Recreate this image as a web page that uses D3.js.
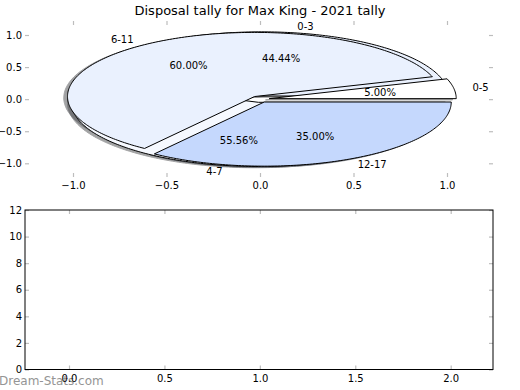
<!DOCTYPE html>
<html>
<head>
<meta charset="utf-8">
<script src="https://cdn.jsdelivr.net/npm/d3@7"></script>
<style>
  html, body { margin: 0; padding: 0; background: #fff; }
  svg { display: block; font-family: "DejaVu Sans", sans-serif; }
</style>
</head>
<body>
<svg id="chart" width="520" height="390"></svg>
<script>
// ---- data ----
const titleText = "Disposal tally for Max King - 2021 tally";
const innerLabels = ["0-3", "4-7"];
const innerValues = [4, 5];
const innerColors = ["#eaf1fe", "#f6f9ff"];
const outerLabels = ["0-5", "6-11", "12-17"];
const outerValues = [1, 12, 7];
const outerColors = ["#ffffff", "#eaf1fe", "#c5d8fd"];
const explodeAmount = [0.05];
const pieTicks = [-1.0, -0.5, 0.0, 0.5, 1.0];
const emptyXTicks = [0.0, 0.5, 1.0, 1.5, 2.0];
const emptyYTicks = [0, 2, 4, 6, 8, 10, 12];
const watermark = "Dream-Stats.com";

const svg = d3.select("#chart");
const fmt1 = v => (v < 0 ? "\u2212" : "") + Math.abs(v).toFixed(1);

// ---- top (pie) axes ----
const topBox = {left: 25, right: 493, top: 21, bottom: 177};
const px = d3.scaleLinear().domain([-1, 1]).range([73, 447]);
const py = d3.scaleLinear().domain([-1, 1]).range([163.3, 35]);

function wedgePath(t1, t2, cx, cy, ox, oy) {
  const pts = [[cx + ox, cy + oy]];
  const n = Math.max(8, Math.ceil((t2 - t1) / (Math.PI / 180)));
  for (let i = 0; i <= n; i++) {
    const t = t1 + (t2 - t1) * i / n;
    pts.push([cx + ox + Math.cos(t), cy + oy + Math.sin(t)]);
  }
  return d3.line().x(d => px(d[0])).y(d => py(d[1]))(pts) + "Z";
}

function buildPie(values, labels, colors) {
  // d3.pie runs clockwise from 12 o'clock; going from pi/2 to pi/2-2pi
  // gives counter-clockwise from 3 o'clock, like the reference.
  const arcs = d3.pie().sort(null).startAngle(Math.PI / 2).endAngle(Math.PI / 2 - 2 * Math.PI)(values);
  const total = d3.sum(values);
  return arcs.map((a, i) => {
    const t1 = Math.PI / 2 - a.startAngle;
    const t2 = Math.PI / 2 - a.endAngle;
    const m = (t1 + t2) / 2;
    const e = explodeAmount[0];
    return {t1, t2, m, cx: e * Math.cos(m), cy: e * Math.sin(m),
            label: labels[i], color: colors[i], pct: (100 * values[i] / total).toFixed(2) + "%"};
  });
}

const pies = [buildPie(innerValues, innerLabels, innerColors), buildPie(outerValues, outerLabels, outerColors)];
const gPie = svg.append("g");

// shadows first
pies.forEach(w => w.forEach(d => {
  const c = d3.color(d.color).rgb();
  const sc = d3.rgb(c.r * 0.3, c.g * 0.3, c.b * 0.3);
  gPie.append("path")
    .attr("d", wedgePath(d.t1, d.t2, d.cx, d.cy, -0.02, -0.02))
    .attr("fill", sc).attr("stroke", sc).attr("stroke-width", 1)
    .attr("opacity", 0.5);
}));
// wedges
pies.forEach(w => w.forEach(d => {
  gPie.append("path")
    .attr("d", wedgePath(d.t1, d.t2, d.cx, d.cy, 0, 0))
    .attr("fill", d.color).attr("stroke", "#000").attr("stroke-width", 1)
    .attr("stroke-linejoin", "miter");
}));
// texts
pies.forEach(w => w.forEach(d => {
  const lx = d.cx + 1.1 * Math.cos(d.m), ly = d.cy + 1.1 * Math.sin(d.m);
  gPie.append("text").attr("x", px(lx)).attr("y", py(ly))
    .attr("text-anchor", lx > 0 ? "start" : "end")
    .attr("dominant-baseline", "central")
    .attr("font-size", 10).attr("fill", "#000").text(d.label);
  const tx = d.cx + 0.6 * Math.cos(d.m), ty = d.cy + 0.6 * Math.sin(d.m);
  gPie.append("text").attr("x", px(tx)).attr("y", py(ty))
    .attr("text-anchor", "middle").attr("dominant-baseline", "central")
    .attr("font-size", 10).attr("fill", "#000").text(d.pct);
}));

function styleAxis(g, showLabels) {
  g.select(".domain").remove();
  g.selectAll(".tick line").attr("stroke", "#bdbdbd").attr("stroke-width", 1.2);
  g.selectAll(".tick text").attr("font-size", 10).attr("fill", "#000")
    .attr("font-family", "DejaVu Sans, sans-serif");
  if (!showLabels) g.selectAll(".tick text").remove();
}

// top axes ticks (no frame)
svg.append("g").attr("transform", `translate(0,${topBox.bottom})`)
  .call(d3.axisBottom(px).tickValues(pieTicks).tickFormat(fmt1).tickSize(-4).tickPadding(5))
  .call(g => styleAxis(g, true));
svg.append("g").attr("transform", `translate(0,${topBox.top})`)
  .call(d3.axisTop(px).tickValues(pieTicks).tickSize(-4))
  .call(g => styleAxis(g, false));
svg.append("g").attr("transform", `translate(${topBox.left},0)`)
  .call(d3.axisLeft(py).tickValues(pieTicks).tickFormat(fmt1).tickSize(-4).tickPadding(3))
  .call(g => styleAxis(g, true));
svg.append("g").attr("transform", `translate(${topBox.right},0)`)
  .call(d3.axisRight(py).tickValues(pieTicks).tickSize(-4))
  .call(g => styleAxis(g, false));

// title
svg.append("text").attr("x", 260).attr("y", 10).attr("text-anchor", "middle")
  .attr("dominant-baseline", "central").attr("font-size", 13).attr("fill", "#000").text(titleText);

// ---- bottom (empty) axes ----
const botBox = {left: 25, right: 493, top: 210, bottom: 369.5};
const bx = d3.scaleLinear().domain([0, 2]).range([69, 450.7]);
const by = d3.scaleLinear().domain([0, 12]).range([botBox.bottom, botBox.top]);

svg.append("text").attr("x", -1).attr("y", 385).attr("font-size", 12)
  .attr("fill", "#8a8a8a").attr("opacity", 0.9).text(watermark);

svg.append("g").attr("transform", `translate(0,${botBox.bottom})`)
  .call(d3.axisBottom(bx).tickValues(emptyXTicks).tickFormat(d3.format(".1f")).tickSize(-4).tickPadding(5))
  .call(g => styleAxis(g, true));
svg.append("g").attr("transform", `translate(0,${botBox.top})`)
  .call(d3.axisTop(bx).tickValues(emptyXTicks).tickSize(-4))
  .call(g => styleAxis(g, false));
svg.append("g").attr("transform", `translate(${botBox.left},0)`)
  .call(d3.axisLeft(by).tickValues(emptyYTicks).tickFormat(d3.format("d")).tickSize(-4).tickPadding(3))
  .call(g => styleAxis(g, true));
svg.append("g").attr("transform", `translate(${botBox.right},0)`)
  .call(d3.axisRight(by).tickValues(emptyYTicks).tickSize(-4))
  .call(g => styleAxis(g, false));

svg.append("rect").attr("x", botBox.left).attr("y", botBox.top)
  .attr("width", botBox.right - botBox.left).attr("height", botBox.bottom - botBox.top)
  .attr("fill", "none").attr("stroke", "#000").attr("stroke-width", 1);
</script>
</body>
</html>
